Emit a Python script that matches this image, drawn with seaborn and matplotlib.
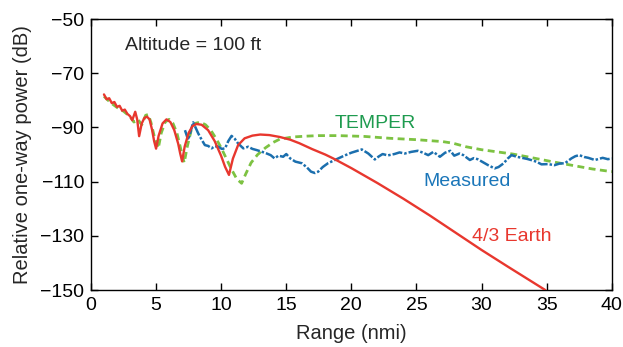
import numpy as np
import pandas as pd
import seaborn as sns
import matplotlib.pyplot as plt

# 4/3 Earth model
earth_x = [1.0, 1.2, 1.4, 1.6, 1.8, 2.0, 2.2, 2.4, 2.6, 2.8, 3.0, 3.17, 3.4, 3.55, 3.7, 3.9, 4.1,
           4.3, 4.5, 4.7, 4.85, 5.0, 5.2, 5.5, 5.8, 6.1, 6.4, 6.7, 6.85, 7.0, 7.2, 7.5, 7.8, 8.1,
           8.5, 9.0, 9.5, 10.0, 10.3, 10.6, 10.9, 11.3, 11.8, 12.4, 13.0, 13.7, 14.5, 15.3, 16.0,
           17.0, 18.0, 18.6, 20.0, 22.0, 24.0, 26.0, 28.0, 30.0, 32.0, 34.0, 34.9]
earth_y = [-77.8, -79.6, -79.2, -81.0, -80.6, -82.4, -82.0, -83.8, -83.4, -85.0, -85.8, -87.3, -84.2,
           -87.0, -93.2, -88.5, -86.5, -86.0, -87.0, -91.0, -95.0, -97.8, -93.0, -88.5, -87.0, -88.0,
           -91.0, -96.0, -99.5, -102.5, -97.0, -92.0, -89.5, -88.7, -89.0, -91.0, -95.0, -100.5,
           -104.5, -107.5, -101.5, -96.5, -94.0, -93.0, -92.6, -92.8, -93.5, -94.5, -95.8, -98.0,
           -100.0, -101.4, -105.0, -110.5, -116.3, -122.4, -128.8, -135.2, -141.3, -147.3, -150.0]

# TEMPER model
temper_x = [1.0, 1.5, 2.0, 2.5, 3.0, 3.3, 3.6, 3.9, 4.2, 4.4, 4.6, 4.9, 5.17, 5.4, 5.7, 6.0, 6.3,
            6.6, 6.9, 7.16, 7.4, 7.7, 8.0, 8.4, 8.8, 9.2, 9.6, 10.0, 10.4, 10.8, 11.2, 11.57, 11.9,
            12.3, 12.8, 13.4, 14.0, 14.5, 15.5, 16.5, 17.5, 19.0, 21.0, 23.0, 25.0, 27.0, 27.8,
            28.8, 30.0, 31.2, 32.4, 33.5, 35.5, 37.0, 38.5, 40.0]
temper_y = [-78.5, -80.8, -82.6, -84.0, -86.0, -88.0, -87.0, -89.0, -85.5, -85.2, -88.0, -94.0,
            -97.7, -92.0, -88.0, -87.0, -88.5, -92.0, -98.0, -103.0, -97.0, -91.0, -88.5, -88.0,
            -89.0, -91.0, -94.0, -97.5, -101.5, -105.5, -109.0, -110.6, -107.0, -103.0, -100.0,
            -97.5, -95.5, -94.3, -93.5, -93.2, -93.0, -93.0, -93.3, -94.0, -94.5, -95.2, -95.8,
            -97.1, -98.2, -99.0, -99.8, -100.8, -102.7, -104.0, -105.3, -106.3]

# Measured
meas_x = [7.22, 7.47, 7.85, 8.24, 8.5, 8.75, 9.0, 9.27, 9.5, 9.78, 10.05, 10.3, 10.55, 10.8, 11.05,
          11.3, 11.7, 12.08, 12.4, 12.7, 13.1, 13.5, 13.8, 14.1, 14.4, 14.76, 15.0, 15.3, 15.7,
          16.2, 16.6, 16.9, 17.2, 17.45, 17.8, 18.2, 18.6, 19.0, 19.5, 20.0, 20.4, 20.8, 21.3,
          21.8, 22.1, 22.4, 22.8, 23.3, 23.7, 24.1, 24.6, 25.1, 25.5, 25.9, 26.3, 26.8, 27.2,
          27.6, 27.9, 28.3, 28.6, 29.1, 29.4, 29.7, 30.1, 30.5, 31.0, 31.3, 31.7, 32.0, 32.3,
          32.7, 33.1, 33.5, 33.8, 34.2, 34.6, 35.1, 35.6, 36.0, 36.4, 36.9, 37.2, 37.5, 37.9,
          38.2, 38.7, 39.0, 39.3, 39.7, 40.0]
meas_y = [-91.0, -94.6, -88.1, -92.2, -94.5, -96.5, -96.8, -97.7, -96.9, -97.1, -97.9, -97.7, -95.0,
          -93.1, -94.2, -95.9, -97.7, -97.1, -97.9, -98.3, -98.9, -99.6, -100.2, -101.4, -100.4,
          -100.8, -99.8, -101.4, -102.6, -103.2, -104.8, -106.3, -106.8, -106.3, -104.6, -103.2,
          -102.3, -101.4, -100.3, -99.3, -98.7, -98.1, -99.6, -101.8, -100.7, -99.8, -100.3, -99.8,
          -99.2, -99.6, -99.0, -98.6, -99.3, -100.2, -99.0, -100.8, -99.3, -98.6, -100.4, -99.6,
          -100.2, -102.0, -101.3, -101.7, -102.8, -103.9, -105.1, -104.6, -103.2, -101.5, -100.2,
          -100.8, -101.2, -101.6, -102.0, -102.6, -103.6, -103.5, -103.9, -103.3, -103.2, -101.4,
          -100.6, -100.2, -100.9, -101.2, -102.0, -101.6, -101.2, -101.7, -101.4]

red = "#e8372e"
green = "#7dc242"
blue = "#1b6fae"

sns.set_style("ticks")
plt.rcParams['font.family'] = ['Liberation Sans', 'DejaVu Sans']

fig = plt.figure(figsize=(6.23, 3.47), dpi=100)
ax = fig.add_axes([0.146, 0.164, 0.836, 0.781])

earth_df = pd.DataFrame({'x': earth_x, 'y': earth_y})
temper_df = pd.DataFrame({'x': temper_x, 'y': temper_y})
meas_df = pd.DataFrame({'x': meas_x, 'y': meas_y})

sns.lineplot(data=temper_df, x='x', y='y', ax=ax, color=green, lw=2.0,
             linestyle=(0, (2.5, 1.6)), sort=False, zorder=2)
sns.lineplot(data=meas_df, x='x', y='y', ax=ax, color=blue, lw=1.8,
             linestyle=(0, (4, 0.8, 1, 0.8)), sort=False, zorder=3)
sns.lineplot(data=earth_df, x='x', y='y', ax=ax, color=red, lw=1.7, sort=False, zorder=4)

ax.set_xlim(0, 40)
ax.set_ylim(-150, -50)
ax.set_xticks(np.arange(0, 41, 5))
ax.set_yticks(np.arange(-150, -49, 20))

for s in ax.spines.values():
    s.set_linewidth(1.0)
    s.set_color("black")
ax.tick_params(direction='in', length=5, width=1, top=True, right=True,
               labelsize=14, colors='black', pad=5)

ax.set_xlabel("Range (nmi)", fontsize=14.5, labelpad=7)
ax.set_ylabel("Relative one-way power (dB)", fontsize=14.5, labelpad=6)

# Annotations
ax.text(2.6, -59.6, "Altitude = 100 ft", fontsize=14, va='center', ha='left')
ax.text(18.7, -88.7, "TEMPER", fontsize=14, color="#1e9b4f", va='center', ha='left')
ax.text(25.5, -110.1, "Measured", fontsize=14, color="#1a76b9", va='center', ha='left')
ax.text(29.25, -130.4, "4/3 Earth", fontsize=14, color=red, va='center', ha='left')

fig.savefig("out.png", dpi=100)
